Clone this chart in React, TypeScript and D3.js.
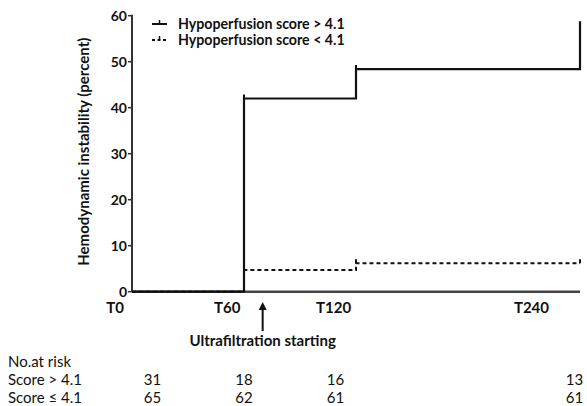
import React from "react";
import * as d3 from "d3";

const stepTimes = [0, 60, 120, 240];
const highScoreValues = [0, 42, 48.4, 58.8];
const lowScoreTimes = [0, 60, 120, 240];
const lowScoreValues = [0, 4.7, 6.2, 6.2];
const highCensorTimes = [60, 120];
const lowCensorTimes = [120, 240];
const yTicks = [0, 10, 20, 30, 40, 50, 60];
const xTickLabels = ["T0", "T60", "T120", "T240"];
const xTickPositions = [-9, 51, 108, 214];
const legendLabels = ["Hypoperfusion score > 4.1", "Hypoperfusion score < 4.1"];
const riskRowLabels = ["Score > 4.1", "Score \u2264 4.1"];
const riskHigh = [31, 18, 16, 13];
const riskLow = [65, 62, 61, 61];
const riskPositions = [11, 60, 109, 237];
const arrowTime = 70;

export default function App() {
  const W = 587, H = 406;
  const x = d3.scaleLinear().domain([0, 240]).range([132, 580]);
  const y = d3.scaleLinear().domain([0, 60]).range([291.7, 15.7]);
  const line = d3.line<[number, number]>().x(d => x(d[0])).y(d => y(d[1])).curve(d3.curveStepAfter);
  const high: [number, number][] = stepTimes.map((t, i) => [t, highScoreValues[i]]);
  const low: [number, number][] = lowScoreTimes.map((t, i) => [t, lowScoreValues[i]]);
  const valAt = (times: number[], vals: number[], t: number) => {
    let v = vals[0];
    times.forEach((tt, i) => { if (tt <= t) v = vals[i]; });
    return v;
  };
  const font = "Lato, 'Open Sans', sans-serif";
  return (
    <svg width={W} height={H} style={{ position: "absolute", left: 0, top: 0, background: "#fff" }}>
      {/* y axis */}
      <line x1={x(0)} x2={x(0)} y1={y(60) - 1} y2={y(0)} stroke="#333" strokeWidth={2} />
      {yTicks.map(t => (
        <g key={t}>
          <line x1={x(0) - 4} x2={x(0)} y1={y(t)} y2={y(t)} stroke="#333" strokeWidth={1.5} />
          <text x={x(0) - 5} y={y(t)} dy="0.35em" textAnchor="end" fontFamily={font} fontWeight="bold" fontSize={14} fill="#111">{t}</text>
        </g>
      ))}
      {/* x axis */}
      <line x1={x(0)} x2={x(240)} y1={y(0)} y2={y(0)} stroke="#444" strokeWidth={2.5} />
      {xTickLabels.map((l, i) => (
        <text key={l} x={x(xTickPositions[i])} y={313} textAnchor="middle" fontFamily={font} fontWeight="bold" fontSize={15} fill="#111">{l}</text>
      ))}
      <text transform={`translate(89,${y(30) - 2}) rotate(-90)`} textAnchor="middle" fontFamily={font} fontWeight="bold" fontSize={15} fill="#111">Hemodynamic instability (percent)</text>
      {/* series */}
      <path d={line(high) || ""} fill="none" stroke="#111" strokeWidth={2.2} />
      <path d={line(low) || ""} fill="none" stroke="#111" strokeWidth={2} strokeDasharray="4,3" />
      {highCensorTimes.map(t => (
        <line key={"h" + t} x1={x(t)} x2={x(t)} y1={y(valAt(stepTimes, highScoreValues, t))} y2={y(valAt(stepTimes, highScoreValues, t)) - 4} stroke="#111" strokeWidth={2} />
      ))}
      {lowCensorTimes.map(t => (
        <line key={"l" + t} x1={x(t)} x2={x(t)} y1={y(valAt(lowScoreTimes, lowScoreValues, t))} y2={y(valAt(lowScoreTimes, lowScoreValues, t)) - 4} stroke="#111" strokeWidth={2} />
      ))}
      {/* legend */}
      {legendLabels.map((l, i) => (
        <g key={l} transform={`translate(152,${24 + i * 16})`}>
          <line x1={0} x2={15} y1={0} y2={0} stroke="#111" strokeWidth={2} strokeDasharray={i === 1 ? "3,2.5" : undefined} />
          <line x1={7.5} x2={7.5} y1={0} y2={-4} stroke="#111" strokeWidth={1.5} />
          <text x={26} y={0} dy="0.35em" fontFamily={font} fontWeight="bold" fontSize={14.2} fill="#111">{l}</text>
        </g>
      ))}
      {/* arrow */}
      <line x1={x(arrowTime)} x2={x(arrowTime)} y1={331} y2={308} stroke="#111" strokeWidth={2} />
      <path d={`M${x(arrowTime) - 4},${310} L${x(arrowTime)},${302} L${x(arrowTime) + 4},${310} Z`} fill="#111" />
      <text x={x(arrowTime)} y={346} textAnchor="middle" fontFamily={font} fontWeight="bold" fontSize={15} fill="#111">Ultrafiltration starting</text>
      {/* risk table */}
      <text x={8} y={367} fontFamily={font} fontSize={15} fill="#111">No.at risk</text>
      {riskRowLabels.map((l, r) => (
        <g key={l}>
          <text x={8} y={385 + r * 17.5} fontFamily={font} fontSize={15} fill="#111">{l}</text>
          {(r === 0 ? riskHigh : riskLow).map((v, i) => (
            <text key={i} x={x(riskPositions[i])} y={385 + r * 17.5} textAnchor="middle" fontFamily={font} fontSize={15} fill="#111">{v}</text>
          ))}
        </g>
      ))}
    </svg>
  );
}
